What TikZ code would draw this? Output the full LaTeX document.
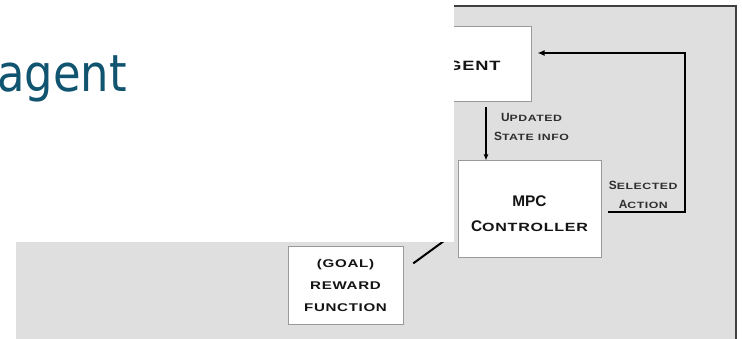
\documentclass[tikz,border=0pt]{standalone}
\usepackage{fontspec}
\usetikzlibrary{arrows.meta,positioning}

\newfontfamily\titlefont{DejaVu Sans}[FakeStretch=0.88]
\newfontfamily\capfont{Liberation Sans}
\newfontfamily\scpfont{Liberation Sans}[FakeStretch=1.35,LetterSpace=6]
\definecolor{slideteal}{RGB}{16,84,112}
\definecolor{panelgray}{RGB}{223,223,223}

% fake small caps: large initial, stretched small rest
\def\capsz{11.9}\def\scsz{9.1}\def\lnsz{19}
\newcommand{\bigsc}[1]{{\capfont\bfseries\fontsize{\capsz}{\lnsz}\selectfont #1}}
\newcommand{\lowsc}[1]{{\scpfont\bfseries\fontsize{\scsz}{\lnsz}\selectfont #1}}

\begin{document}
\begin{tikzpicture}[x=1pt, y=-1pt, node distance=100pt,
    blockbox/.style={rectangle, draw=black!40, line width=1pt, fill=white, align=center, text=black!92},
    boxtext/.style={font={\def\capsz{15.4}\def\scsz{11.9}\def\lnsz{25}\fontsize{11.9}{25}\selectfont}},
    goaltext/.style={font={\def\scsz{11.2}\def\lnsz{22}\fontsize{11.2}{22}\selectfont}},
    lbltext/.style={align=center, text=black!82, font={\fontsize{9.1}{19}\selectfont}},
    infoline/.style={line width=1.2pt, -{Latex[length=6pt,width=5pt]}, shorten <=5pt},
    actionline/.style={line width=2pt, -{Latex[length=7pt,width=6pt]}, shorten <=6pt, shorten >=6pt},
    goalline/.style={line width=2pt, shorten <=12pt}]

    \useasboundingbox (0,0) rectangle (742,339);

    % grey slide panel behind the diagram
    \fill[panelgray] (16,6) rectangle (737,339);
    \draw[black!75, line width=1.5pt] (16,6) -- (736,6) -- (736,339);

    \node[blockbox, minimum width=128pt, minimum height=75pt, font={\scpfont\bfseries\fontsize{13.5}{16}\selectfont}] (agent) at (467,64.5) {\rule{0pt}{13pt}AGENT};
    \node[blockbox, boxtext, minimum width=143pt, minimum height=97pt, below of=agent, node distance=145pt, xshift=62.5pt] (mpc) {\rule{0pt}{19pt}\bigsc{MPC}\\\bigsc{C}\lowsc{ONTROLLER}};
    \node[blockbox, goaltext, minimum width=115pt, minimum height=77pt, left of=mpc, node distance=184pt, yshift=-76pt] (reward) {\lowsc{(GOAL)}\\\lowsc{REWARD}\\\lowsc{FUNCTION}};
    \node[coordinate] (turn) at (685,53) {};
    \node[coordinate] (goalend) at (446,239.5) {};

    \draw[infoline] ([xshift=19pt]agent.south) -- node[lbltext, pos=0.415, xshift=45.5pt] {\bigsc{U}\lowsc{PDATED}\\\bigsc{S}\lowsc{TATE INFO}} ([xshift=19pt]agent.south |- mpc.north);
    \draw[actionline] ([yshift=-2.5pt]mpc.east) -| node[lbltext, pos=0.25, yshift=17.5pt] {\bigsc{S}\lowsc{ELECTED}\\\bigsc{A}\lowsc{CTION}} (turn) -- (agent.east |- turn);
    \draw[goalline] ([yshift=15pt]reward.east) -- (goalend);

    % white title area laid over the panel
    \fill[white] (0,0) rectangle (454,242);
    \node[anchor=base east, inner sep=0pt, text=slideteal, font={\titlefont\fontsize{51}{60}\selectfont}] (title) at (127,92) {agent};
\end{tikzpicture}
\end{document}
